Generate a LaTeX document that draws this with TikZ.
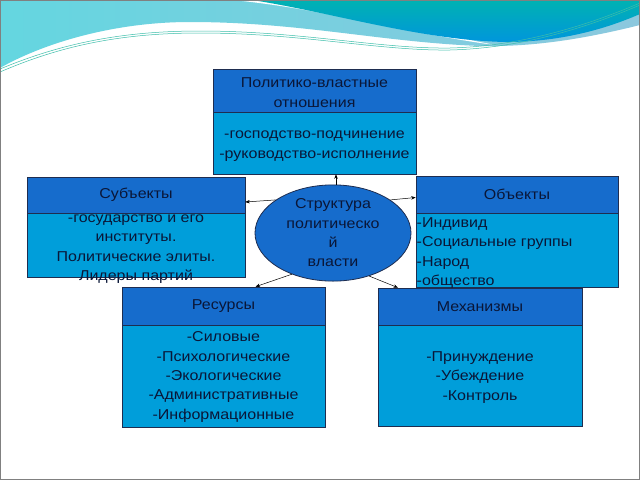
\documentclass[tikz,border=0pt]{standalone}
\usepackage{fontspec}
\setmainfont{Liberation Sans}[FakeStretch=1.12]
\usetikzlibrary{shapes.geometric,arrows.meta}
\definecolor{hdr}{RGB}{22,108,204}
\definecolor{bdy}{RGB}{0,158,218}
\definecolor{txt}{RGB}{10,22,55}
\definecolor{edge}{RGB}{30,45,80}
\definecolor{lightbg}{RGB}{140,200,222}
\definecolor{cyanbg}{RGB}{100,214,224}
\definecolor{tealtop}{RGB}{0,178,178}
\definecolor{tealbot}{RGB}{0,150,220}
\definecolor{wline}{RGB}{60,190,170}
\tikzset{
  txtfont/.style={font=\fontsize{14.3}{19.3}\selectfont, text=txt},
  hdrbox/.style={draw=edge, line width=0.6pt, fill=hdr, inner sep=0pt, align=center, txtfont},
  bdybox/.style={draw=edge, line width=0.6pt, fill=bdy, inner sep=0pt, align=center, txtfont},
  plain/.style={inner sep=0pt, align=center, txtfont},
  conn/.style={draw=black, line width=0.5pt, -{Stealth[length=4.5pt,width=3.5pt]}},
}
\begin{document}
\begin{tikzpicture}[x=1pt,y=-1pt]
\useasboundingbox (0,0) rectangle (640,480);
\fill[white] (0,0) rectangle (640,480);
% background waves
\shade[left color=cyanbg, right color=lightbg]
  (0,0) -- (640,0) -- (640,25) .. controls (580,40) and (530,47) .. (480,46)
  .. controls (380,42) and (300,22) .. (190,22)
  .. controls (110,22) and (40,45) .. (0,68) -- cycle;
\fill[white] (232,0) .. controls (320,8) and (410,34) .. (495,45)
  .. controls (420,30) and (330,10) .. (262,0) -- cycle;
\shade[top color=tealtop, bottom color=tealbot]
  (252,0) .. controls (330,12) and (420,40) .. (505,42)
  .. controls (565,42) and (610,27) .. (640,14) -- (640,0) -- cycle;
\draw[wline, line width=0.5pt] (0,72) .. controls (60,46) and (120,33) .. (200,33)
  .. controls (300,33) and (380,51) .. (450,50) .. controls (530,48) and (600,22) .. (640,5);
\draw[wline, line width=0.5pt] (0,69) .. controls (60,44) and (120,31) .. (200,31)
  .. controls (300,31) and (380,49) .. (450,48) .. controls (530,46) and (600,20) .. (640,3);
\draw[gray, line width=1pt] (0.5,0.5) rectangle (639.5,479.5);

% top box
\node[hdrbox, minimum width=203pt, minimum height=43pt] (topH) at (314.5,90.5) {};
\node[plain] (topHt) at (314.5,92.5) {Политико-властные\\отношения};
\node[bdybox, minimum width=203pt, minimum height=62pt] (topB) at (314.5,143) {};
\node[plain] (topBt) at (314.5,146) {-господство-подчинение\\-руководство-исполнение};
% subjects
\node[hdrbox, minimum width=218pt, minimum height=36pt] (subjH) at (136,195) {Субъекты};
\node[bdybox, minimum width=218pt, minimum height=64pt] (subjB) at (136,245) {};
\node[plain] (subjBt) at (136,249) {-государство и его\\институты.\\Политические элиты.\\Лидеры партий};
% objects
\node[hdrbox, minimum width=202pt, minimum height=37pt] (objH) at (517,194.5) {Объекты};
\node[bdybox, minimum width=202pt, minimum height=74pt] (objB) at (517,250) {};
\node[plain, align=left, anchor=west] (objBt) at (416.5,253) {-Индивид\\-Социальные группы\\-Народ\\-общество};
% resources
\node[hdrbox, minimum width=203pt, minimum height=38pt] (resH) at (223.5,306) {Ресурсы};
\node[bdybox, minimum width=203pt, minimum height=102pt] (resB) at (223.5,376) {};
\node[plain] (resBt) at (223.5,377) {-Силовые\\-Психологические\\-Экологические\\-Административные\\-Информационные};
% mechanisms
\node[hdrbox, minimum width=204pt, minimum height=37pt] (mechH) at (480,306.5) {Механизмы};
\node[bdybox, minimum width=204pt, minimum height=101pt] (mechB) at (480,375.5) {};
\node[plain] (mechBt) at (480,377.5) {-Принуждение\\-Убеждение\\-Контроль};
% center ellipse
\node[ellipse, draw=edge, line width=0.8pt, fill=hdr, minimum width=156pt, minimum height=90pt, inner sep=0pt, align=center, txtfont] (ell) at (333,233) {Структура\\политическо\\й\\власти};

% connectors
\draw[conn] ([xshift=3pt]ell.north) -- ([xshift=3pt]ell.north |- topB.south);
\draw[conn] (ell.150) -- ([yshift=-7pt]subjH.east);
\draw[conn] (ell.30) -- ([yshift=-3pt]objH.west);
\draw[conn] (ell.225) -- ([xshift=32pt]resH.north);
\draw[conn] (ell.310) -- ([xshift=-82pt]mechH.north);
\end{tikzpicture}
\end{document}
